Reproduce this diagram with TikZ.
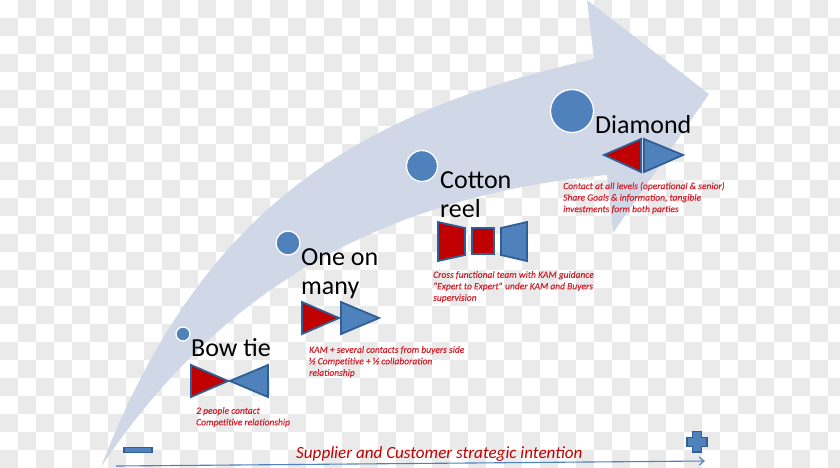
\documentclass[tikz,border=0pt]{standalone}
\usepackage{fontspec}
\setmainfont{Carlito}
\newfontfamily\notefont[UprightFont={* Italic},FakeBold=0.4,UprightFeatures={FakeBold=0.4}]{Carlito}
\usetikzlibrary{arrows.meta}
\definecolor{checkgray}{HTML}{EAEAEA}
\definecolor{bandblue}{HTML}{D0D8E8}
\definecolor{accentblue}{HTML}{4F81BD}
\definecolor{edgeblue}{HTML}{2F5F96}
\definecolor{deepred}{HTML}{C00000}
\definecolor{notered}{HTML}{D3212D}
\tikzset{
  x=1pt, y=-1pt,
  stage/.style={circle, fill=accentblue, draw=white, line width=1.3pt, inner sep=0pt},
  redpart/.style={fill=deepred, draw=edgeblue, line width=1.8pt, line join=miter},
  bluepart/.style={fill=accentblue, draw=edgeblue, line width=1.8pt, line join=miter},
  heading/.style={anchor=north west, inner sep=0pt, align=left, text=black,
    font=\fontsize{26}{29.5}\selectfont},
  remark/.style={anchor=north west, inner sep=0pt, align=left, text=notered,
    font=\notefont\fontsize{9.5}{11.5}\selectfont},
}
\begin{document}
\begin{tikzpicture}
\useasboundingbox (0,0) rectangle (840,467);
% checkered ground
\begin{scope}
  \clip (0,0) rectangle (840,467);
  \foreach \i in {0,...,46} {
    \foreach \j in {0,...,25} {
      \pgfmathtruncatemacro{\k}{\i+\j}
      \ifodd\k
        \fill[checkgray] (18*\i,18*\j) rectangle (18*\i+18,18*\j+18);
      \fi
    }
  }
\end{scope}
% sweeping arrow
\fill[bandblue] (101,467) .. controls (200,210) and (355,112) .. (594,59)
  -- (587,0) -- (709,94) -- (613,233) -- (607,175)
  .. controls (330,201) and (190,335) .. (101,467) -- cycle;
% stage markers
\node[stage, minimum size=14pt] (dotA) at (183,334) {};
\node[stage, minimum size=24pt] (dotB) at (288,243) {};
\node[stage, minimum size=31pt] (dotC) at (422,166) {};
\node[stage, minimum size=43pt] (dotD) at (572,111) {};
% headings
\node[heading] (headA) at (191,338) {Bow tie};
\node[heading] (headB) at (301,248) {One on\\many};
\node[heading] (headC) at (440,171) {Cotton\\reel};
\node[heading] (headD) at (595,115) {Diamond};
% bow tie
\draw[redpart] (191,365) -- (228,381) -- (191,397) -- cycle;
\draw[bluepart] (268,365) -- (230,381) -- (268,397) -- cycle;
% one on many
\draw[redpart] (302,302) -- (339,318) -- (302,334) -- cycle;
\draw[bluepart] (341,302) -- (379,318) -- (341,334) -- cycle;
% cotton reel
\draw[redpart] (438,222) -- (465,228) -- (465,255) -- (438,261) -- cycle;
\draw[redpart] (472,228) rectangle (494,254);
\draw[bluepart] (501,228) -- (527,222) -- (527,261) -- (501,255) -- cycle;
% diamond
\draw[redpart] (604,155) -- (641,139) -- (641,172) -- cycle;
\draw[bluepart] (644,139) -- (683,155) -- (644,172) -- cycle;
% remarks
\node[remark] (noteA) at (196,407) {2 people contact\\Competitive relationship};
\node[remark] (noteB) at (309,346) {KAM + several contacts from buyers side\\½ Competitive + ½ collaboration\\relationship};
\node[remark] (noteC) at (433,271) {Cross functional team with KAM guidance\\“Expert to Expert” under KAM and Buyers\\supervision};
\node[remark] (noteD) at (563,182) {Contact at all levels (operational \& senior)\\Share Goals \& information, tangible\\investments form both parties};
% strategic intention axis
\node[anchor=base west, inner sep=0pt, text=deepred, font=\fontsize{17.1}{20}\selectfont\itshape] (axisText) at (296,458) {Supplier and Customer strategic intention};
\coordinate (axisStart) at (116,466);
\coordinate (axisEnd) at (705,461);
\draw[accentblue, line width=1.1pt, -{Straight Barb[length=5pt,width=8pt]}] (axisStart) -- (axisEnd);
\draw[fill=accentblue, draw=edgeblue, line width=1.3pt] (124,447.5) rectangle (152,452.5);
\draw[fill=accentblue, draw=edgeblue, line width=1.3pt]
  (692.5,431.5) -- (701.5,431.5) -- (701.5,437.5) -- (707,437.5) -- (707,446.5)
  -- (701.5,446.5) -- (701.5,452) -- (692.5,452) -- (692.5,446.5) -- (687,446.5)
  -- (687,437.5) -- (692.5,437.5) -- cycle;
\end{tikzpicture}
\end{document}
